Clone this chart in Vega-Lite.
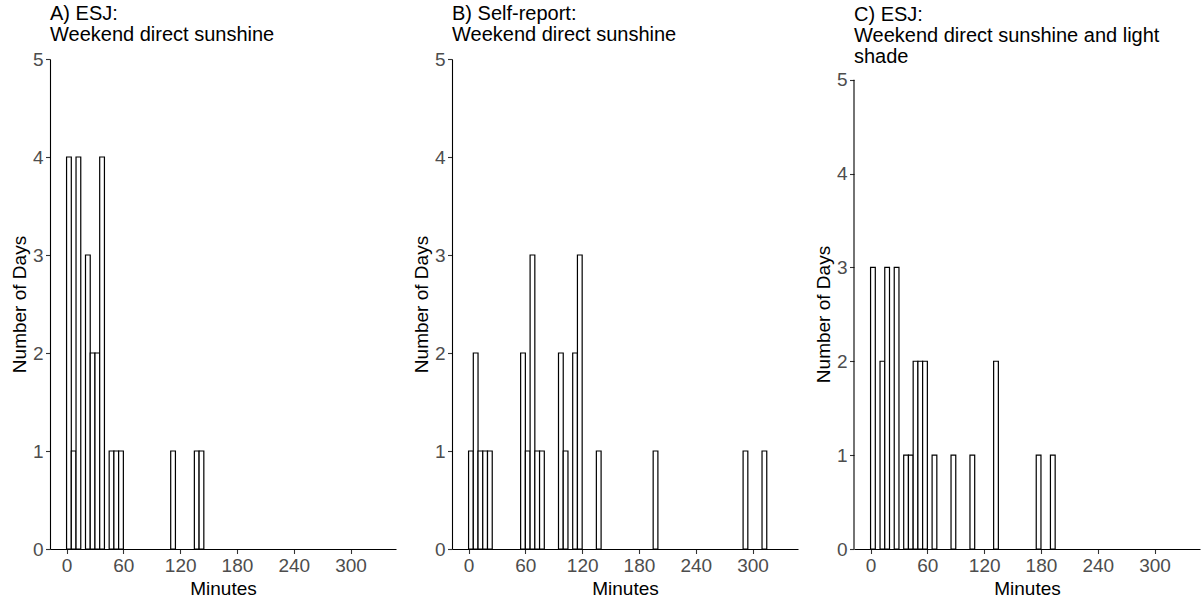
{
  "$schema": "https://vega.github.io/schema/vega-lite/v6.json",
  "background": "white",
  "padding": {"left": 10, "top": 4, "right": 2, "bottom": 5},
  "config": {
    "view": {"stroke": null},
    "font": "Liberation Sans",
    "concat": {"spacing": 16},
    "axis": {
      "grid": false,
      "domainColor": "black",
      "domainWidth": 1.1,
      "tickColor": "#333333",
      "tickWidth": 1.1,
      "tickSize": 4.5,
      "labelColor": "#4d4d4d",
      "labelFont": "Liberation Sans",
      "labelFontSize": 19,
      "titleFont": "Liberation Sans",
      "titleFontSize": 19,
      "titleFontWeight": "normal",
      "titleColor": "black",
      "labelPadding": 3,
      "titlePadding": 4
    },
    "axisY": {"labelPadding": 2.5, "titlePadding": 3},
    "title": {
      "anchor": "start",
      "frame": "group",
      "font": "Liberation Sans",
      "fontSize": 20,
      "fontWeight": "normal",
      "color": "black",
      "lineHeight": 21,
      "offset": 5
    }
  },
  "data": {
    "values": [
      {"panel": "A", "start": 0, "end": 5, "count": 4},
      {"panel": "A", "start": 5, "end": 10, "count": 1},
      {"panel": "A", "start": 10, "end": 15, "count": 4},
      {"panel": "A", "start": 20, "end": 25, "count": 3},
      {"panel": "A", "start": 25, "end": 30, "count": 2},
      {"panel": "A", "start": 30, "end": 35, "count": 2},
      {"panel": "A", "start": 35, "end": 40, "count": 4},
      {"panel": "A", "start": 45, "end": 50, "count": 1},
      {"panel": "A", "start": 50, "end": 55, "count": 1},
      {"panel": "A", "start": 55, "end": 60, "count": 1},
      {"panel": "A", "start": 110, "end": 115, "count": 1},
      {"panel": "A", "start": 135, "end": 140, "count": 1},
      {"panel": "A", "start": 140, "end": 145, "count": 1},
      {"panel": "B", "start": 0, "end": 5, "count": 1},
      {"panel": "B", "start": 5, "end": 10, "count": 2},
      {"panel": "B", "start": 10, "end": 15, "count": 1},
      {"panel": "B", "start": 15, "end": 20, "count": 1},
      {"panel": "B", "start": 20, "end": 25, "count": 1},
      {"panel": "B", "start": 55, "end": 60, "count": 2},
      {"panel": "B", "start": 60, "end": 65, "count": 1},
      {"panel": "B", "start": 65, "end": 70, "count": 3},
      {"panel": "B", "start": 70, "end": 75, "count": 1},
      {"panel": "B", "start": 75, "end": 80, "count": 1},
      {"panel": "B", "start": 95, "end": 100, "count": 2},
      {"panel": "B", "start": 100, "end": 105, "count": 1},
      {"panel": "B", "start": 110, "end": 115, "count": 2},
      {"panel": "B", "start": 115, "end": 120, "count": 3},
      {"panel": "B", "start": 135, "end": 140, "count": 1},
      {"panel": "B", "start": 195, "end": 200, "count": 1},
      {"panel": "B", "start": 290, "end": 295, "count": 1},
      {"panel": "B", "start": 310, "end": 315, "count": 1},
      {"panel": "C", "start": 0, "end": 5, "count": 3},
      {"panel": "C", "start": 10, "end": 15, "count": 2},
      {"panel": "C", "start": 15, "end": 20, "count": 3},
      {"panel": "C", "start": 25, "end": 30, "count": 3},
      {"panel": "C", "start": 35, "end": 40, "count": 1},
      {"panel": "C", "start": 40, "end": 45, "count": 1},
      {"panel": "C", "start": 45, "end": 50, "count": 2},
      {"panel": "C", "start": 50, "end": 55, "count": 2},
      {"panel": "C", "start": 55, "end": 60, "count": 2},
      {"panel": "C", "start": 65, "end": 70, "count": 1},
      {"panel": "C", "start": 85, "end": 90, "count": 1},
      {"panel": "C", "start": 105, "end": 110, "count": 1},
      {"panel": "C", "start": 130, "end": 135, "count": 2},
      {"panel": "C", "start": 175, "end": 180, "count": 1},
      {"panel": "C", "start": 190, "end": 195, "count": 1}
    ]
  },
  "hconcat": [
    {
      "width": 346,
      "height": 490,
      "title": {"text": ["A) ESJ:", "\u2005Weekend direct sunshine"]},
      "transform": [{"filter": "datum.panel === 'A'"}],
      "mark": {"type": "bar", "fill": "white", "stroke": "black", "strokeWidth": 1.2},
      "encoding": {
        "x": {"field": "start", "type": "quantitative", "scale": {"domain": [-17.5, 348], "nice": false, "zero": false}, "axis": {"values": [0, 60, 120, 180, 240, 300], "title": "Minutes"}},
        "x2": {"field": "end"},
        "y": {"field": "count", "type": "quantitative", "scale": {"domain": [0, 5], "nice": false}, "axis": {"values": [0, 1, 2, 3, 4, 5], "format": "d", "title": "Number of Days"}},
        "y2": {"datum": 0}
      }
    },
    {
      "width": 346,
      "height": 490,
      "title": {"text": ["B) Self-report:", "\u2005Weekend direct sunshine"]},
      "transform": [{"filter": "datum.panel === 'B'"}],
      "mark": {"type": "bar", "fill": "white", "stroke": "black", "strokeWidth": 1.2},
      "encoding": {
        "x": {"field": "start", "type": "quantitative", "scale": {"domain": [-17.5, 348], "nice": false, "zero": false}, "axis": {"values": [0, 60, 120, 180, 240, 300], "title": "Minutes"}},
        "x2": {"field": "end"},
        "y": {"field": "count", "type": "quantitative", "scale": {"domain": [0, 5], "nice": false}, "axis": {"values": [0, 1, 2, 3, 4, 5], "format": "d", "title": "Number of Days"}},
        "y2": {"datum": 0}
      }
    },
    {
      "width": 346,
      "height": 490,
      "title": {"text": ["C) ESJ:", "Weekend direct sunshine and light", "shade"], "offset": -8},
      "layer": [
        {
          "transform": [{"filter": "datum.panel === 'C'"}],
          "mark": {"type": "bar", "fill": "white", "stroke": "black", "strokeWidth": 1.2},
          "encoding": {
            "x": {"field": "start", "type": "quantitative", "scale": {"domain": [-17.5, 348], "nice": false, "zero": false}, "axis": {"values": [0, 60, 120, 180, 240, 300], "title": "Minutes"}},
            "x2": {"field": "end"},
            "y": {"field": "count", "type": "quantitative", "scale": {"domain": [0, 5.22], "nice": false}, "axis": {"values": [0, 1, 2, 3, 4, 5], "format": "d", "title": "Number of Days", "domain": false, "titleY": 255}},
            "y2": {"datum": 0}
          }
        },
        {
          "data": {"values": [{"lo": 0, "hi": 5, "xpos": -17.5}]},
          "mark": {"type": "rule", "color": "black", "strokeWidth": 1.1},
          "encoding": {
            "x": {"field": "xpos", "type": "quantitative"},
            "y": {"field": "lo", "type": "quantitative"},
            "y2": {"field": "hi"}
          }
        }
      ]
    }
  ]
}
